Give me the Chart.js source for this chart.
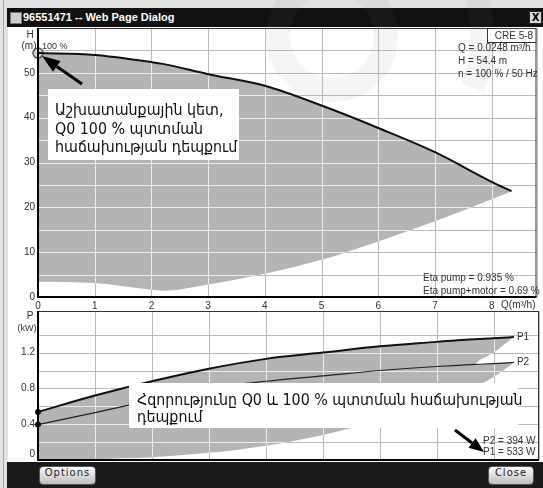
<!DOCTYPE html>
<html>
<head>
<meta charset="utf-8">
<script src="https://cdn.jsdelivr.net/npm/chart.js@4.4.1/dist/chart.umd.min.js"></script>
<style>
  html, body { margin: 0; padding: 0; }
  body { width: 543px; height: 488px; position: relative; overflow: hidden; background: #e2e2e2; }
  #edge { position: absolute; left: 3px; top: 0; width: 1px; height: 488px; background: #a8a8a8; }
  #title { position: absolute; left: 7px; top: 8px; width: 536px; height: 19px; background: #111; color: #fff;
           font: bold 11px "Liberation Sans", Arial, sans-serif; line-height: 19px; }
  #title .ico { position: absolute; left: 3px; top: 4px; width: 10px; height: 10px; background: #cfcfcf; border: 1px solid #777; }
  #title .txt { position: absolute; left: 16px; top: 0; }
  #title .x { position: absolute; left: 522px; top: 3px; width: 11px; height: 11px; background: #d8d8d8; border: 1px solid #222;
              color: #000; font: bold 10px "DejaVu Sans", sans-serif; text-align: center; line-height: 11px; }
  #content { position: absolute; left: 8px; top: 27px; width: 535px; height: 435px; background: #fff; }
  canvas { position: absolute; left: 0; top: 0; }
  #bar { position: absolute; left: 7px; top: 462px; width: 536px; height: 26px; background: #1a1a1a; z-index: 5; }
  .btn { position: absolute; top: 4px; height: 17px; border-radius: 4px; border: 1px solid #555;
         background: linear-gradient(#fbfbfb, #bdbdbd); color: #222; text-align: center; line-height: 17px;
         font: 10px "DejaVu Sans", sans-serif; letter-spacing: 1px; }
</style>
</head>
<body>
<div id="edge"></div>
<div id="title"><div class="ico"></div><div class="txt">96551471 -- Web Page Dialog</div><div class="x">X</div></div>
<div id="content"></div>
<canvas id="headChart" width="543" height="488" style="z-index:1"></canvas>
<canvas id="powerChart" width="543" height="488" style="z-index:2"></canvas>
<div id="bar">
  <div class="btn" style="left:32px;width:55px;">Options</div>
  <div class="btn" style="left:481px;width:44px;">Close</div>
</div>
<script>
// pump curve, head (m) vs flow (m3/h)
const qHead   = [0, 1, 2, 2.2, 3, 4, 5, 6, 7, 8, 8.35];
const headMax = [54.4, 54.0, 52.4, 52.0, 49.7, 47.1, 42.7, 37.7, 32.3, 25.7, 23.6];
const headMin = [3.4, 3.1, 1.6, 1.4, 2.8, 5.2, 8.3, 12.4, 16.9, 21.8, 23.6];
const dutyQ = [0];
const dutyH = [54.4];

// power curves (kW)
const qPower = [0, 1, 2, 3, 4, 5, 6, 7, 7.5, 7.75, 8, 8.35];
const p1Max = [0.537, 0.72, 0.88, 1.02, 1.13, 1.2, 1.27, 1.32, 1.345, 1.352, 1.36, 1.374];
const p1Min = [0.02, 0.03, 0.06, 0.12, 0.22, 0.35, 0.55, 0.8, 0.98, 1.117, 1.2, 1.374];
const p2Max = [0.396, 0.53, 0.67, 0.8, 0.88, 0.94, 1.0, 1.045, 1.062, 1.07, 1.078, 1.09];
const p2Min = [0.0, 0.01, 0.03, 0.08, 0.16, 0.28, 0.45, 0.67, 0.78, 0.84, 0.93, 1.09];

const qTicks = [0, 1, 2, 3, 4, 5, 6, 7, 8];
const hTicks = [0, 10, 20, 30, 40, 50];
const pTicks = [0.4, 0.8, 1.2];

const FONT = '"Liberation Sans", Arial, sans-serif';
const ARM = '"DejaVu Sans", sans-serif';
const gray = '#b4b4b4';
const gridOnWhite = '#bcbcbc';
const gridOnGray = '#ebebeb';

const pts = (xs, ys) => xs.map((x, i) => ({ x: x, y: ys[i] }));

function txt(ctx, s, x, y, size, align, font) {
  ctx.font = size + 'px ' + (font || FONT);
  ctx.textAlign = align || 'left';
  ctx.fillText(s, x, y);
}

// Armenian callout text, a little condensed like the original face
function arm(ctx, s, x, y) {
  ctx.save();
  ctx.translate(x, y);
  ctx.scale(0.89, 1);
  ctx.font = '16px ' + ARM;
  ctx.textAlign = 'left';
  ctx.fillText(s, 0, 0);
  ctx.restore();
}

function arrow(ctx, x1, y1, x2, y2, head, wid) {
  const a = Math.atan2(y2 - y1, x2 - x1);
  const bx = x2 - head * Math.cos(a), by = y2 - head * Math.sin(a);
  ctx.strokeStyle = '#000';
  ctx.lineWidth = 3;
  ctx.beginPath(); ctx.moveTo(x1, y1); ctx.lineTo(bx, by); ctx.stroke();
  ctx.fillStyle = '#000';
  ctx.beginPath();
  ctx.moveTo(x2, y2);
  ctx.lineTo(bx + wid / 2 * Math.sin(a), by - wid / 2 * Math.cos(a));
  ctx.lineTo(bx - wid / 2 * Math.sin(a), by + wid / 2 * Math.cos(a));
  ctx.closePath(); ctx.fill();
}

function frame(ctx, a) {
  ctx.strokeStyle = '#333';
  ctx.lineWidth = 1;
  ctx.strokeRect(a.left + 0.5, a.top + 0.5, a.right - a.left - 1, a.bottom - a.top - 1);
  ctx.strokeStyle = '#000';
  ctx.lineWidth = 2;
  ctx.beginPath();
  ctx.moveTo(a.left, a.top); ctx.lineTo(a.left, a.bottom); ctx.lineTo(a.right, a.bottom);
  ctx.stroke();
}

function gridPass(chart, color, mode) {
  const ctx = chart.ctx, a = chart.chartArea;
  const xs = chart.scales.x, ys = chart.scales.y;
  ctx.save();
  ctx.globalCompositeOperation = mode;
  ctx.fillStyle = color;
  for (const t of xs.ticks) {
    const p = Math.round(xs.getPixelForValue(t.value));
    ctx.fillRect(p, a.top, 1, a.bottom - a.top);
  }
  for (const t of ys.ticks) {
    const p = Math.round(ys.getPixelForValue(t.value));
    ctx.fillRect(a.left, p, a.right - a.left, 1);
  }
  ctx.restore();
}

// called after the fills: light lines on the grey, darker lines on the white
function drawGridLines(chart) {
  gridPass(chart, gridOnGray, 'source-atop');
  gridPass(chart, gridOnWhite, 'destination-over');
}

function axisOpts(min, max, step, show, size) {
  return {
    type: 'linear', min: min, max: max,
    border: { display: false },
    grid: { display: false, drawTicks: false },
    ticks: { stepSize: step, autoSkip: false, maxRotation: 0, padding: 3, color: '#333',
             font: { family: FONT, size: 10 }, callback: show },
    afterFit: size
  };
}

const headDecor = {
  id: 'headDecor',
  beforeDatasetsDraw(chart) {
    drawGridLines(chart);
    const ctx = chart.ctx;
    ctx.save();
    ctx.strokeStyle = 'rgba(120,120,120,0.07)';
    ctx.lineWidth = 24;
    ctx.beginPath(); ctx.arc(332, 36, 54, 0, Math.PI * 2); ctx.stroke();
    ctx.beginPath(); ctx.arc(332, 36, 150, -0.7, 0.35); ctx.stroke();
    ctx.restore();
  },
  afterDraw(chart) {
    const { ctx, chartArea: a, scales: { x, y } } = chart;
    ctx.save();
    frame(ctx, a);
    ctx.fillStyle = '#333';
    ctx.textBaseline = 'middle';
    txt(ctx, 'H', a.left - 8, a.top + 7, 10, 'center');
    txt(ctx, '(m)', a.left - 9, a.top + 18, 10, 'center');
    txt(ctx, 'Q(m³/h)', a.right - 1, a.bottom + 8, 10, 'right');
    const px = x.getPixelForValue(dutyQ[0]), py = y.getPixelForValue(dutyH[0]);
    txt(ctx, '100 %', px + 4, py - 7, 9, 'left');

    // pump type box and readouts
    ctx.fillStyle = '#fff';
    ctx.fillRect(487, a.top, a.right - 487, 14);
    ctx.strokeStyle = '#333'; ctx.lineWidth = 1;
    ctx.strokeRect(487.5, a.top + 0.5, a.right - 488, 14);
    ctx.fillStyle = '#333';
    txt(ctx, 'CRE 5-8', 514, a.top + 8, 10, 'center');
    txt(ctx, 'Q = 0.0248 m³/h', 458, 48, 10);
    txt(ctx, 'H = 54.4 m', 458, 61, 10);
    txt(ctx, 'n = 100 % / 50 Hz', 458, 74, 10);
    txt(ctx, 'Eta pump = 0.935 %', 423, 278, 10);
    txt(ctx, 'Eta pump+motor = 0.69 %', 423, 291, 10);

    // callout
    arrow(ctx, 82, 84, px + 4, py + 3, 18, 13);
    ctx.fillStyle = '#fff';
    ctx.fillRect(48, 89, 191, 71);
    ctx.fillStyle = '#111';
    ctx.textBaseline = 'alphabetic';
    arm(ctx, 'Աշխատանքային կետ,', 55, 115);
    arm(ctx, 'Q0 100 % պտտման', 55, 133.5);
    arm(ctx, 'հաճախության դեպքում', 55, 152);
    ctx.restore();
  }
};

const powerDecor = {
  id: 'powerDecor',
  beforeDatasetsDraw(chart) {
    drawGridLines(chart);
  },
  afterDraw(chart) {
    const { ctx, chartArea: a, scales: { x, y } } = chart;
    ctx.save();
    frame(ctx, a);
    ctx.fillStyle = '#333';
    ctx.textBaseline = 'middle';
    txt(ctx, 'P', a.left - 8, a.top + 5, 10, 'center');
    txt(ctx, '(kW)', a.left - 11, a.top + 18, 9, 'center');
    txt(ctx, '0', a.left - 3, y.getPixelForValue(0) - 6, 10, 'right');
    const n = qPower.length - 1;
    txt(ctx, 'P1', x.getPixelForValue(qPower[n]) + 3, y.getPixelForValue(p1Max[n]), 10, 'left');
    txt(ctx, 'P2', x.getPixelForValue(qPower[n]) + 3, y.getPixelForValue(p2Max[n]), 10, 'left');
    txt(ctx, 'P2 = 394 W', 483, 441, 10);
    txt(ctx, 'P1 = 533 W', 483, 452, 10);

    // callout
    ctx.fillStyle = '#fff';
    ctx.fillRect(129, 383, 389, 45);
    arrow(ctx, 455, 430, 484, 452, 15, 12);
    ctx.fillStyle = '#111';
    ctx.textBaseline = 'alphabetic';
    arm(ctx, 'Հզորությունը Q0 և 100 % պտտման հաճախության', 137, 405);
    arm(ctx, 'դեպքում', 137, 422);
    ctx.restore();
  }
};

const common = {
  responsive: false, animation: false, events: [],
  plugins: { legend: { display: false }, tooltip: { enabled: false }, filler: { drawTime: 'beforeDatasetsDraw' } }
};

new Chart(document.getElementById('headChart'), {
  type: 'line',
  data: {
    datasets: [
      { data: pts(qHead, headMax), borderColor: '#111', borderWidth: 2, pointRadius: 0,
        fill: 1, backgroundColor: gray, cubicInterpolationMode: 'monotone' },
      { data: pts(qHead, headMin), borderColor: 'rgba(0,0,0,0)', borderWidth: 0, pointRadius: 0,
        fill: false, cubicInterpolationMode: 'monotone' },
      { data: pts(dutyQ, dutyH), showLine: false, pointRadius: 5, pointBackgroundColor: '#d6d6d6',
        pointBorderColor: '#555', pointBorderWidth: 1.5, clip: false }
    ]
  },
  options: Object.assign({}, common, {
    layout: { padding: { left: 0, right: 2, top: 28, bottom: 171 } },
    scales: {
      x: axisOpts(0, 8.79, 1, v => qTicks.includes(v) ? String(v) : '', s => { s.height = 20; }),
      y: axisOpts(0, 60, 5, v => hTicks.includes(v) ? String(v) : '', s => { s.width = 38; })
    }
  }),
  plugins: [headDecor]
});

const dot = ctx => ctx.dataIndex === 0 ? 3 : 0;

const powerX = axisOpts(0, 8.79, 1, () => '', s => { s.height = 0; });
powerX.ticks.display = false;

new Chart(document.getElementById('powerChart'), {
  type: 'line',
  data: {
    datasets: [
      { data: pts(qPower, p1Max), borderColor: '#111', borderWidth: 2, fill: 1, backgroundColor: gray,
        pointRadius: dot, pointBackgroundColor: '#111', pointBorderWidth: 0, clip: false,
        cubicInterpolationMode: 'monotone' },
      { data: pts(qPower, p1Min), borderColor: 'rgba(0,0,0,0)', borderWidth: 0, pointRadius: 0, fill: false },
      { data: pts(qPower, p2Max), borderColor: '#222', borderWidth: 1.2, fill: 3, backgroundColor: gray,
        pointRadius: dot, pointBackgroundColor: '#111', pointBorderWidth: 0, clip: false,
        cubicInterpolationMode: 'monotone' },
      { data: pts(qPower, p2Min), borderColor: 'rgba(0,0,0,0)', borderWidth: 0, pointRadius: 0, fill: false,
        cubicInterpolationMode: 'monotone' }
    ]
  },
  options: Object.assign({}, common, {
    layout: { padding: { left: 0, right: 2, top: 311, bottom: 28 } },
    scales: {
      x: powerX,
      y: axisOpts(0, 1.665, 0.2, v => {
        const r = Math.round(v * 10) / 10;
        return (Math.abs(v - r) < 1e-6 && pTicks.includes(r)) ? r.toFixed(1) : '';
      }, s => { s.width = 38; })
    }
  }),
  plugins: [powerDecor]
});
</script>
</body>
</html>
